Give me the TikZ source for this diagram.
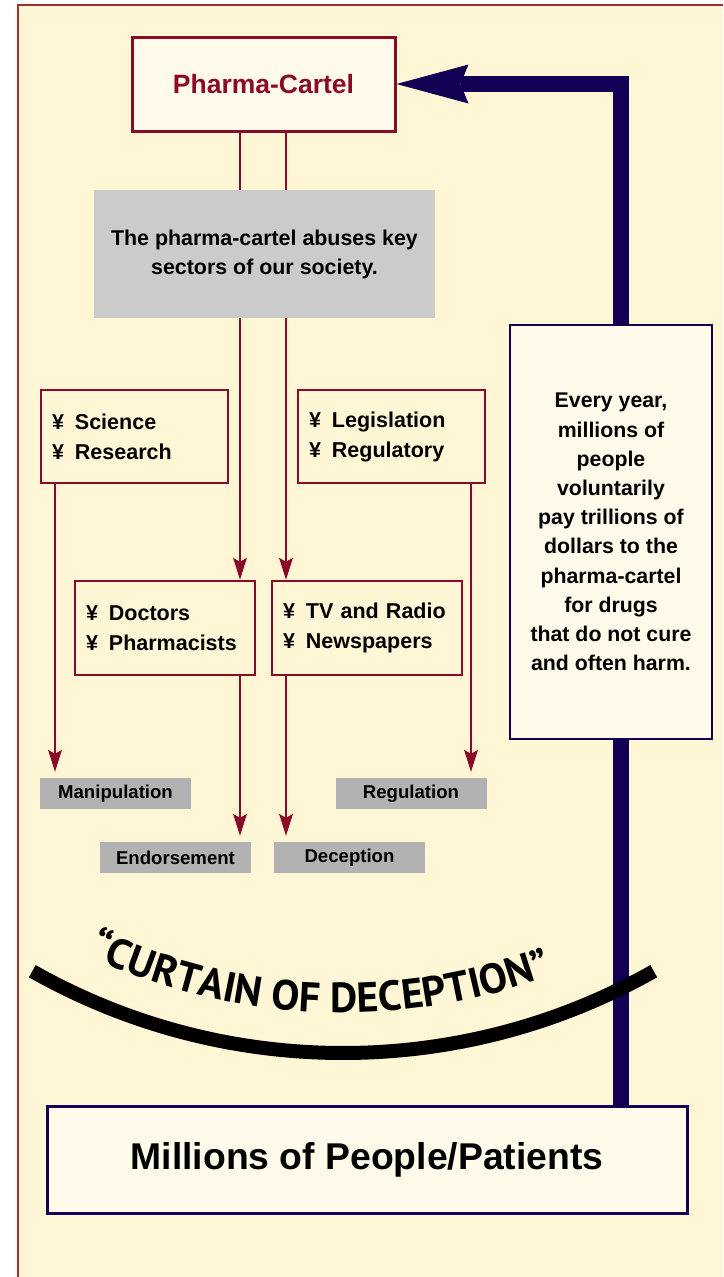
\documentclass[tikz,border=0pt]{standalone}
\usepackage{fontspec}
\setmainfont{Liberation Sans}
\newfontfamily\ptsans{PT Sans}
\usetikzlibrary{arrows.meta,decorations.text,calc}
\definecolor{cream}{RGB}{255,246,214}
\definecolor{boxfill}{RGB}{255,250,233}
\definecolor{wine}{RGB}{139,10,40}
\definecolor{navy}{RGB}{18,0,84}
\definecolor{framecol}{RGB}{170,45,45}
\definecolor{grayfill}{RGB}{203,203,203}
\definecolor{labelfill}{RGB}{178,178,178}
\newcommand{\curtfont}{\ptsans\bfseries\fontsize{42}{42}\selectfont}
\begin{document}
\begin{tikzpicture}[x=1pt,y=-1pt,
  listbox/.style={draw=wine, line width=2.5pt, inner sep=0pt, align=left,
    font=\bfseries\fontsize{21.5}{30}\selectfont},
  labelbox/.style={fill=labelfill, minimum width=151pt, minimum height=31pt, inner sep=0pt,
    font=\bfseries\fontsize{18.6}{18.6}\selectfont},
  redline/.style={draw=wine, line width=2.5pt},
  redarrow/.style={redline, -{Stealth[length=22pt,width=14pt,inset=4pt,line width=0pt]}},
  navyline/.style={draw=navy, line width=15.5pt},
  navyarrow/.style={navyline, -{Stealth[length=72pt,width=39pt,inset=8pt,line width=0pt]}},
]
\useasboundingbox (0,0) rectangle (723,1277);
\fill[white] (0,0) rectangle (723,1277);
\fill[cream] (18,5) rectangle (723,1277);
\draw[framecol, line width=1.5pt] (18,1277) -- (18,5) -- (723,5);

% nodes
\node[draw=wine, line width=3pt, fill=boxfill, minimum width=263pt, minimum height=94pt, inner sep=0pt,
  text=wine, font=\bfseries\fontsize{26.5}{30}\selectfont] (pharma) at (263.5,84) {Pharma-Cartel};
\node[fill=grayfill, minimum width=341pt, minimum height=128pt, inner sep=0pt, align=center,
  font=\bfseries\fontsize{21.4}{29}\selectfont] (gray) at (264.5,254)
  {The pharma-cartel abuses key\\sectors of our society.};

\node[listbox, minimum width=187pt, minimum height=93pt, text width=165pt] (sci) at (134.5,436.5)
  {¥\hspace{11pt}Science\\¥\hspace{11pt}Research};
\node[listbox, minimum width=187pt, minimum height=93pt, text width=165pt] (leg) at (391.5,436.5)
  {¥\hspace{11pt}Legislation\\¥\hspace{11pt}Regulatory};
\node[listbox, minimum width=180pt, minimum height=94pt, text width=158pt] (doc) at (165,628)
  {¥\hspace{11pt}Doctors\\¥\hspace{11pt}Pharmacists};
\node[listbox, minimum width=190pt, minimum height=94pt, text width=168pt] (tv) at (367,628)
  {¥\hspace{11pt}TV and Radio\\¥\hspace{11pt}Newspapers};

\node[labelbox] (manip) at (115.5,793.5) {Manipulation};
\node[labelbox] (regul) at (411,793.5) {Regulation};
\node[labelbox] (endo) at (175.5,857.5) {Endorsement};
\node[labelbox] (decep) at (349.5,857.5) {Deception};

\node[draw=navy, line width=2.5pt, fill=boxfill, minimum width=202pt, minimum height=414pt,
  inner sep=0pt, align=center, font=\bfseries\fontsize{21.3}{29.2}\selectfont] (txt) at (611,532)
  {Every year,\\millions of\\people\\voluntarily\\pay trillions of\\dollars to the\\pharma-cartel\\for drugs\\that do not cure\\and often harm.};

\node[draw=navy, line width=3pt, fill=boxfill, minimum width=640pt, minimum height=107pt,
  inner sep=0pt, font=\bfseries\fontsize{37.3}{40}\selectfont] (people) at (367,1159.5)
  {Millions of People/Patients};

% red connectors
\coordinate (cL) at (240,0);
\coordinate (cR) at (286,0);
\coordinate (cS) at (55,0);
\coordinate (cG) at (471,0);
\draw[redline] (pharma.south -| cL) -- (gray.north -| cL);
\draw[redline] (pharma.south -| cR) -- (gray.north -| cR);
\draw[redarrow] (gray.south -| cL) -- (doc.north -| cL);
\draw[redarrow] (gray.south -| cR) -- (tv.north -| cR);
\draw[redarrow, shorten >=6pt] (doc.south -| cL) -- (endo.north -| cL);
\draw[redarrow, shorten >=6pt] (tv.south -| cR) -- (decep.north -| cR);
\draw[redarrow, shorten >=6pt] (sci.south -| cS) -- (manip.north -| cS);
\draw[redarrow, shorten >=6pt] (leg.south -| cG) -- (regul.north -| cG);

% navy feedback arrow
\coordinate (nx) at (621,0);
\draw[navyline] (people.north -| nx) -- (txt.south -| nx);
\draw[navyarrow] (txt.north -| nx) |- (pharma.east);

% curtain
\draw[black, line width=14pt] (32.3,971.2) arc[start angle=119.5, end angle=60.5, radius=631];
\path[decorate, decoration={text along path, text align=center,
  text={|\curtfont|“CURTAIN OF DECEPTION”}}]
  (47.5,933.8) arc[start angle=120, end angle=64.8, radius=591];
\end{tikzpicture}
\end{document}
